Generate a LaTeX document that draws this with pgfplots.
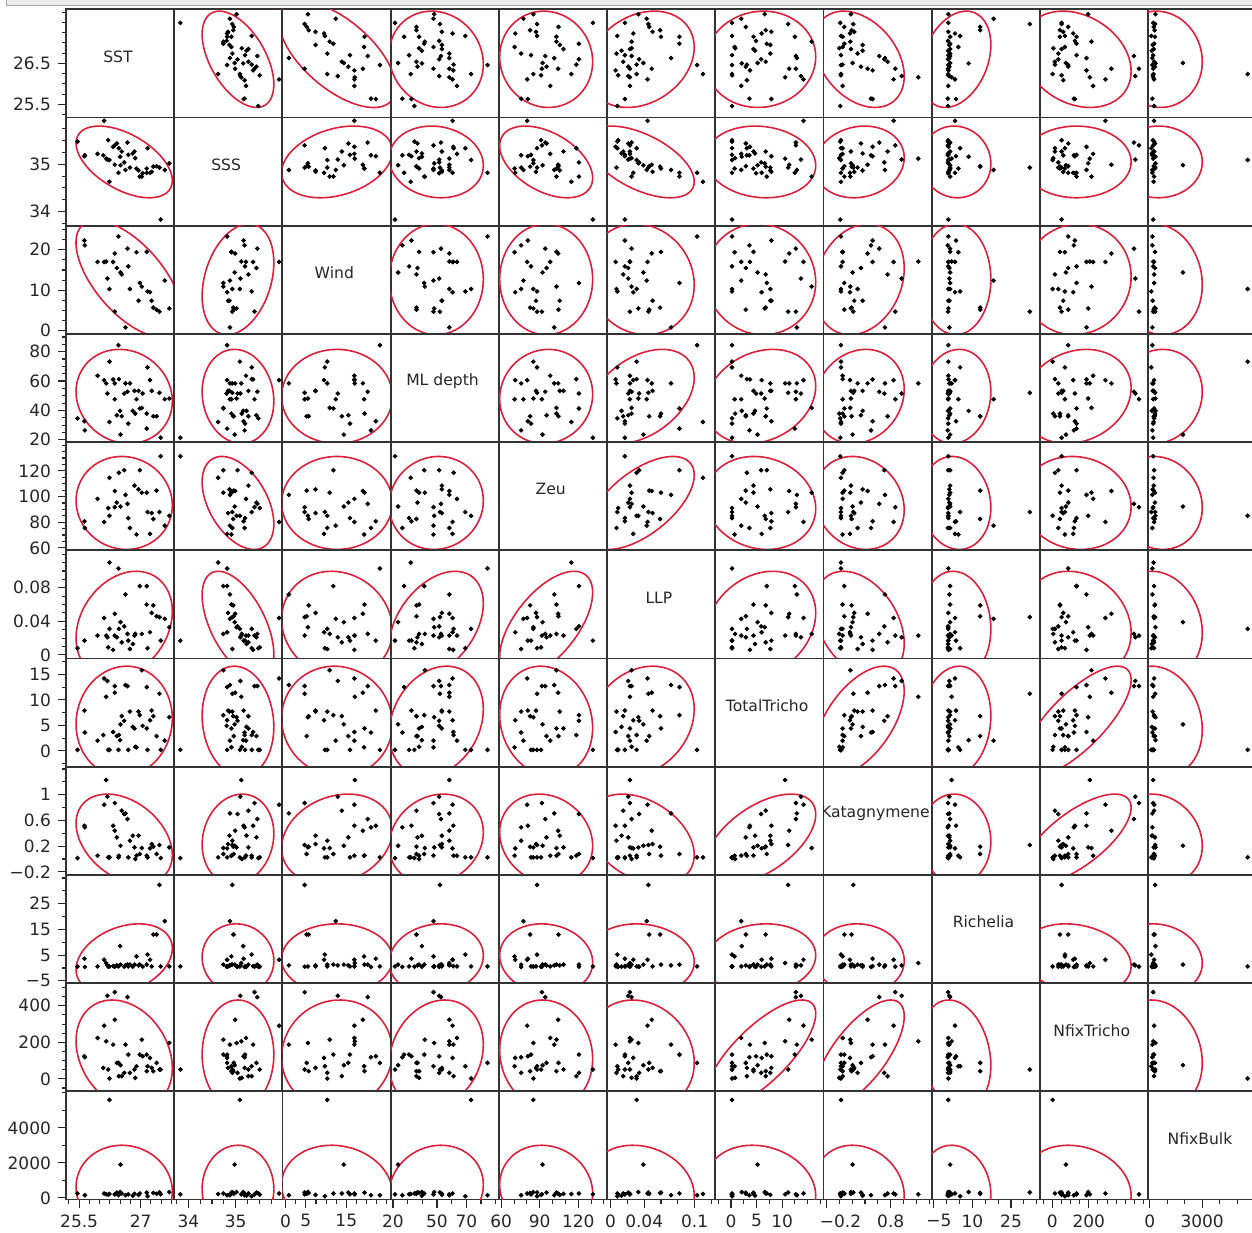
\documentclass[border=0pt]{standalone}
\usepackage{pgfplots}
\pgfplotsset{compat=1.18}
\usepackage{pgfplotstable}
\usepackage{fontspec}
\setmainfont{DejaVu Sans}
\definecolor{ellred}{RGB}{218,32,58}

\pgfplotstableread{
SST SSS Wind ML Zeu LLP TT Kat Rich NT NB
25.46 35.48 nan 34.6 nan 0.008 0.2 0.015 0.5 nan 250
25.63 35.17 22.3 32.6 80.7 0.017 7.9 0.518 3.6 123.8 nan
25.64 35.19 21.1 26.4 75.5 nan 3.6 0.493 0.4 118.4 150
25.95 35.22 17.0 63.6 98.2 0.023 2.0 0.052 0.6 223.8 nan
26.09 35.19 nan nan nan nan 3.1 nan nan 60.3 nan
26.11 35.92 17.0 60.6 80.2 0.044 14.2 0.845 3.2 291.0 250
26.16 35.12 17.1 58.4 nan 0.023 10.6 1.229 1.9 205.6 200
26.19 35.10 12.9 51.5 nan 0.021 13.7 0.970 1.0 454.5 nan
26.21 35.51 nan nan 91.0 0.009 0.2 0.026 0.5 51.2 180
26.24 35.09 10.3 73.2 85.0 0.031 0.2 0.026 0.6 2.1 5600
26.24 34.63 nan 32.1 114.6 0.110 nan 0.026 nan nan 220
26.33 35.37 17.0 61.1 nan 0.006 3.7 0.518 0.7 187.4 nan
26.37 35.40 4.7 47.6 91.7 0.023 12.7 0.871 0.5 474.5 200
26.37 34.99 19.1 58.4 104.3 0.049 11.4 0.441 nan 323.7 nan
26.42 35.44 15.5 36.7 95.3 0.021 2.9 0.337 1.0 87.5 300
26.46 34.82 23.3 84.4 nan 0.103 0.2 0.026 0.6 87.5 150
26.47 35.34 nan 61.3 118.5 0.031 3.1 0.052 nan 14.8 nan
26.50 35.16 nan 39.7 nan nan 2.1 nan 8.5 nan 330
26.51 34.98 14.4 23.5 92.2 0.039 5.2 0.207 1.3 74.8 1900
26.54 35.27 13.9 36.0 nan 0.015 6.8 0.752 nan 14.8 250
26.60 35.04 nan 51.5 120.5 0.034 5.9 0.700 0.5 33.1 nan
26.63 34.88 0.8 58.4 101.3 0.072 12.9 0.710 1.0 187.4 150
26.68 35.46 20.3 52.7 94.3 0.025 12.7 0.622 1.3 447.2 nan
26.70 35.20 15.9 31.0 83.2 0.017 0.2 0.026 0.6 132.9 200
26.74 34.93 10.3 58.4 75.5 0.007 7.7 0.285 1.3 33.1 nan
26.81 35.23 nan 39.7 nan 0.013 4.7 0.363 0.5 nan 120
26.85 35.27 nan 53.3 108.5 0.023 4.4 0.181 1.3 51.2 230
26.87 35.13 nan 37.8 nan 0.025 0.8 0.000 nan 5.8 nan
26.90 34.91 19.4 47.6 70.4 nan 0.7 0.052 4.5 69.3 nan
26.95 34.87 7.4 53.3 105.6 nan 7.7 0.363 1.0 nan 170
26.98 34.74 11.8 41.3 120.5 0.082 7.0 0.078 1.3 132.9 250
27.03 34.74 10.9 41.7 103.0 0.025 15.8 0.171 nan 214.7 nan
27.05 34.81 nan 51.5 nan nan 4.9 nan 0.5 123.8 nan
27.15 34.91 19.5 37.8 103.0 0.060 4.4 0.052 1.3 42.1 300
27.15 34.82 nan 27.6 nan 0.082 12.5 nan nan 132.9 nan
27.17 35.34 9.7 69.3 87.9 0.008 0.2 0.026 5.2 69.3 90
27.23 34.82 9.5 60.6 70.9 0.027 6.0 0.166 3.2 114.8 nan
27.27 34.84 7.4 53.3 87.1 0.050 7.9 0.233 0.6 60.3 nan
27.31 34.95 5.7 36.0 82.5 0.059 6.8 0.192 13.0 42.1 280
27.39 34.96 5.2 36.0 104.6 0.046 2.9 0.078 13.0 87.5 230
27.46 34.93 4.7 52.0 87.9 0.045 11.2 0.218 32.3 51.2 310
27.49 33.83 nan 21.4 131.4 0.017 0.2 0.015 0.6 51.2 200
27.59 34.88 12.4 47.6 77.3 0.043 2.0 nan 18.2 nan nan
27.70 35.02 5.5 48.1 85.0 0.033 6.6 0.181 0.6 196.5 330
}\data

% density-ellipse statistics (means, standard deviations, correlations)
\def\means{{26.6,35.05,12.7,49.5,95,0.036,5.8,0.31,3.5,133,500}}
\def\sds{{0.48,0.31,5.6,13.1,14.8,0.026,4.41,0.286,5.58,122,1024}}
\def\rmat{{0,-0.52,-0.62,-0.1,-0.05,0.25,0.05,-0.35,0.3,-0.25,-0.05,
-0.52,0,0.3,-0.1,-0.45,-0.55,-0.1,0.12,-0.05,0,0,
-0.62,0.3,0,0,0,-0.1,-0.05,0.2,0,0.05,-0.1,
-0.1,-0.1,0,0,0.05,0.4,0.22,0.15,0.1,0.18,0.1,
-0.05,-0.45,0,0.05,0,0.6,-0.12,-0.15,-0.1,-0.08,-0.1,
0.25,-0.55,-0.1,0.4,0.6,0,0.22,-0.35,-0.08,-0.15,-0.15,
0.05,-0.1,-0.05,0.22,-0.12,0.22,0,0.55,0.1,0.75,-0.15,
-0.35,0.12,0.2,0.15,-0.15,-0.35,0.55,0,-0.05,0.7,-0.15,
0.3,-0.05,0,0.1,-0.1,-0.08,0.1,-0.05,0,-0.2,-0.12,
-0.25,0,0.05,0.18,-0.08,-0.15,0.75,0.7,-0.2,0,-0.15,
-0.05,0,-0.1,0.1,-0.1,-0.15,-0.15,-0.15,-0.12,-0.15,0}}

\newcommand\varname[1]{\ifcase#1 SST\or SSS\or Wind\or ML depth\or Zeu\or LLP\or TotalTricho\or Katagnymene\or Richelia\or NfixTricho\or NfixBulk\fi}

\newcommand\defvar[3]{\pgfplotsset{xv#1/.style={xmin=#2,xmax=#3},yv#1/.style={ymin=#2,ymax=#3}}}
\defvar{0}{25.18}{27.82}
\defvar{1}{33.70}{35.99}
\defvar{2}{-0.8}{25.96}
\defvar{3}{18.4}{92.1}
\defvar{4}{58.1}{142.4}
\defvar{5}{-0.0043}{0.1246}
\defvar{6}{-3.1}{18.1}
\defvar{7}{-0.247}{1.436}
\defvar{8}{-5.9}{36.2}
\defvar{9}{-68}{524}
\defvar{10}{-97}{6090}

\pgfplotsset{
  cell/.style={
    width=54.1pt, height=54.1pt, scale only axis, anchor=north west,
    axis line style={line width=0.9pt, black!80},
    xtick=\empty, ytick=\empty,
    xtick pos=bottom, ytick pos=left,
    tick align=outside,
    major tick length=4pt, minor tick length=2.2pt,
    every tick/.style={black!85, line width=0.55pt},
    tick label style={font=\fontsize{8.5}{9}\selectfont, black!85},
    clip=true,
  },
  xtk0/.style={xtick={25.5,27},xticklabels={25.5,27},minor xtick={25.25,25.75,26,26.25,26.5,26.75,27.25,27.5,27.75}},
  ytk0/.style={ytick={25.5,26.5},yticklabels={25.5,26.5},minor ytick={25.25,25.75,26,26.25,26.75,27,27.25,27.5,27.75}},
  xtk1/.style={xtick={34,35},xticklabels={34,35},minor xtick={33.75,34.25,34.5,34.75,35.25,35.5,35.75}},
  ytk1/.style={ytick={34,35},yticklabels={34,35},minor ytick={33.75,34.25,34.5,34.75,35.25,35.5,35.75}},
  xtk2/.style={xtick={0,5,15},xticklabels={0,5,15},minor xtick={2.5,7.5,10,12.5,17.5,20,22.5,25}},
  ytk2/.style={ytick={0,10,20},yticklabels={0,10,20},minor ytick={2.5,5,7.5,12.5,15,17.5,22.5,25}},
  xtk3/.style={xtick={20,50,70},xticklabels={20,50,70},minor xtick={30,40,60,80,90}},
  ytk3/.style={ytick={20,40,60,80},yticklabels={20,40,60,80},minor ytick={25,30,35,45,50,55,65,70,75,85,90}},
  xtk4/.style={xtick={60,90,120},xticklabels={60,90,120},minor xtick={70,80,100,110,130,140}},
  ytk4/.style={ytick={60,80,100,120},yticklabels={60,80,100,120},minor ytick={65,70,75,85,90,95,105,110,115,125,130,135,140}},
  xtk5/.style={xtick={0,0.04,0.1},xticklabels={0,0.04,0.1},minor xtick={0.02,0.06,0.08,0.12}},
  ytk5/.style={ytick={0,0.04,0.08},yticklabels={0,0.04,0.08},minor ytick={0.01,0.02,0.03,0.05,0.06,0.07,0.09,0.1,0.11,0.12}},
  xtk6/.style={xtick={0,5,10},xticklabels={0,5,10},minor xtick={-2.5,2.5,7.5,12.5,15,17.5}},
  ytk6/.style={ytick={0,5,10,15},yticklabels={0,5,10,15},minor ytick={-2.5,2.5,7.5,12.5,17.5}},
  xtk7/.style={xtick={-0.2,0.8},xticklabels={\hspace{14pt}−0.2,0.8},minor xtick={0,0.2,0.4,0.6,1,1.2,1.4}},
  ytk7/.style={ytick={-0.2,0.2,0.6,1},yticklabels={−0.2,0.2,0.6,1},minor ytick={0,0.4,0.8,1.2,1.4}},
  xtk8/.style={xtick={-5,10,25},xticklabels={\hspace{5pt}−5,10,25},minor xtick={0,5,15,20,30,35}},
  ytk8/.style={ytick={-5,5,15,25},yticklabels={−5,5,15,25},minor ytick={0,10,20,30,35}},
  xtk9/.style={xtick={0,200},xticklabels={0,200},minor xtick={-50,50,100,150,250,300,350,400,450,500}},
  ytk9/.style={ytick={0,200,400},yticklabels={0,200,400},minor ytick={-50,50,100,150,250,300,350,450,500}},
  xtk10/.style={xtick={0,3000},xticklabels={0,3000},minor xtick={1000,2000,4000,5000,6000}},
  ytk10/.style={ytick={0,2000,4000},yticklabels={0,2000,4000},minor ytick={1000,3000,5000,6000}},
}

\begin{document}
\begin{tikzpicture}[x=1pt,y=1pt]
\useasboundingbox (0,0) rectangle (626,-616);
\begin{scope}
\clip (0,0) rectangle (626,-616);
\filldraw[fill=black!8,draw=black!35,line width=0.4pt] (3.4,2) rectangle (630,-2.6);
\foreach \i in {0,...,10}{
  \foreach \j in {0,...,10}{
    \pgfmathsetmacro\xpos{33+54.1*\j}
    \pgfmathsetmacro\ypos{-4.65-54.1*\i}
    \edef\axbegin{\noexpand\begin{axis}[cell, at={(\xpos pt,\ypos pt)}, xv\j, yv\i\ifnum\j=0 ,ytk\i\fi\ifnum\i=10 ,xtk\j\fi]}
    \ifnum\i=\j
      \axbegin
        \node[font=\fontsize{7.8}{9}\selectfont, text=black!85] at (rel axis cs:0.48,0.565) {\varname{\i}};
      \end{axis}
    \else
      \pgfmathsetmacro\Mx{\means[\j]}
      \pgfmathsetmacro\My{\means[\i]}
      \pgfmathsetmacro\Ax{2.4477*\sds[\j]}
      \pgfmathsetmacro\Ay{2.4477*\sds[\i]}
      \pgfmathsetmacro\Rr{\rmat[\i*11+\j]}
      \pgfmathsetmacro\Sq{sqrt(1-(\Rr)^2)}
      % pairwise statistics of the SST / Wind pair
      \ifnum\i=0 \ifnum\j=2 \def\Mx{12.8}\def\Ax{14.44}\def\My{26.72}\def\Ay{1.297}\fi\fi
      \ifnum\i=2 \ifnum\j=0 \def\Mx{26.72}\def\Ax{1.297}\def\My{12.8}\def\Ay{14.44}\fi\fi
      \axbegin
        \addplot[only marks, mark=*, mark size=0.95pt, black, mark options={fill=black}] table[x index=\j, y index=\i] {\data};
        \addplot[ellred, line width=0.8pt, no markers, domain=0:360, samples=73] ({\Mx+\Ax*cos(x)},{\My+\Ay*(\Rr*cos(x)+\Sq*sin(x))});
      \end{axis}
    \fi
  }
}
\end{scope}
\end{tikzpicture}
\end{document}
